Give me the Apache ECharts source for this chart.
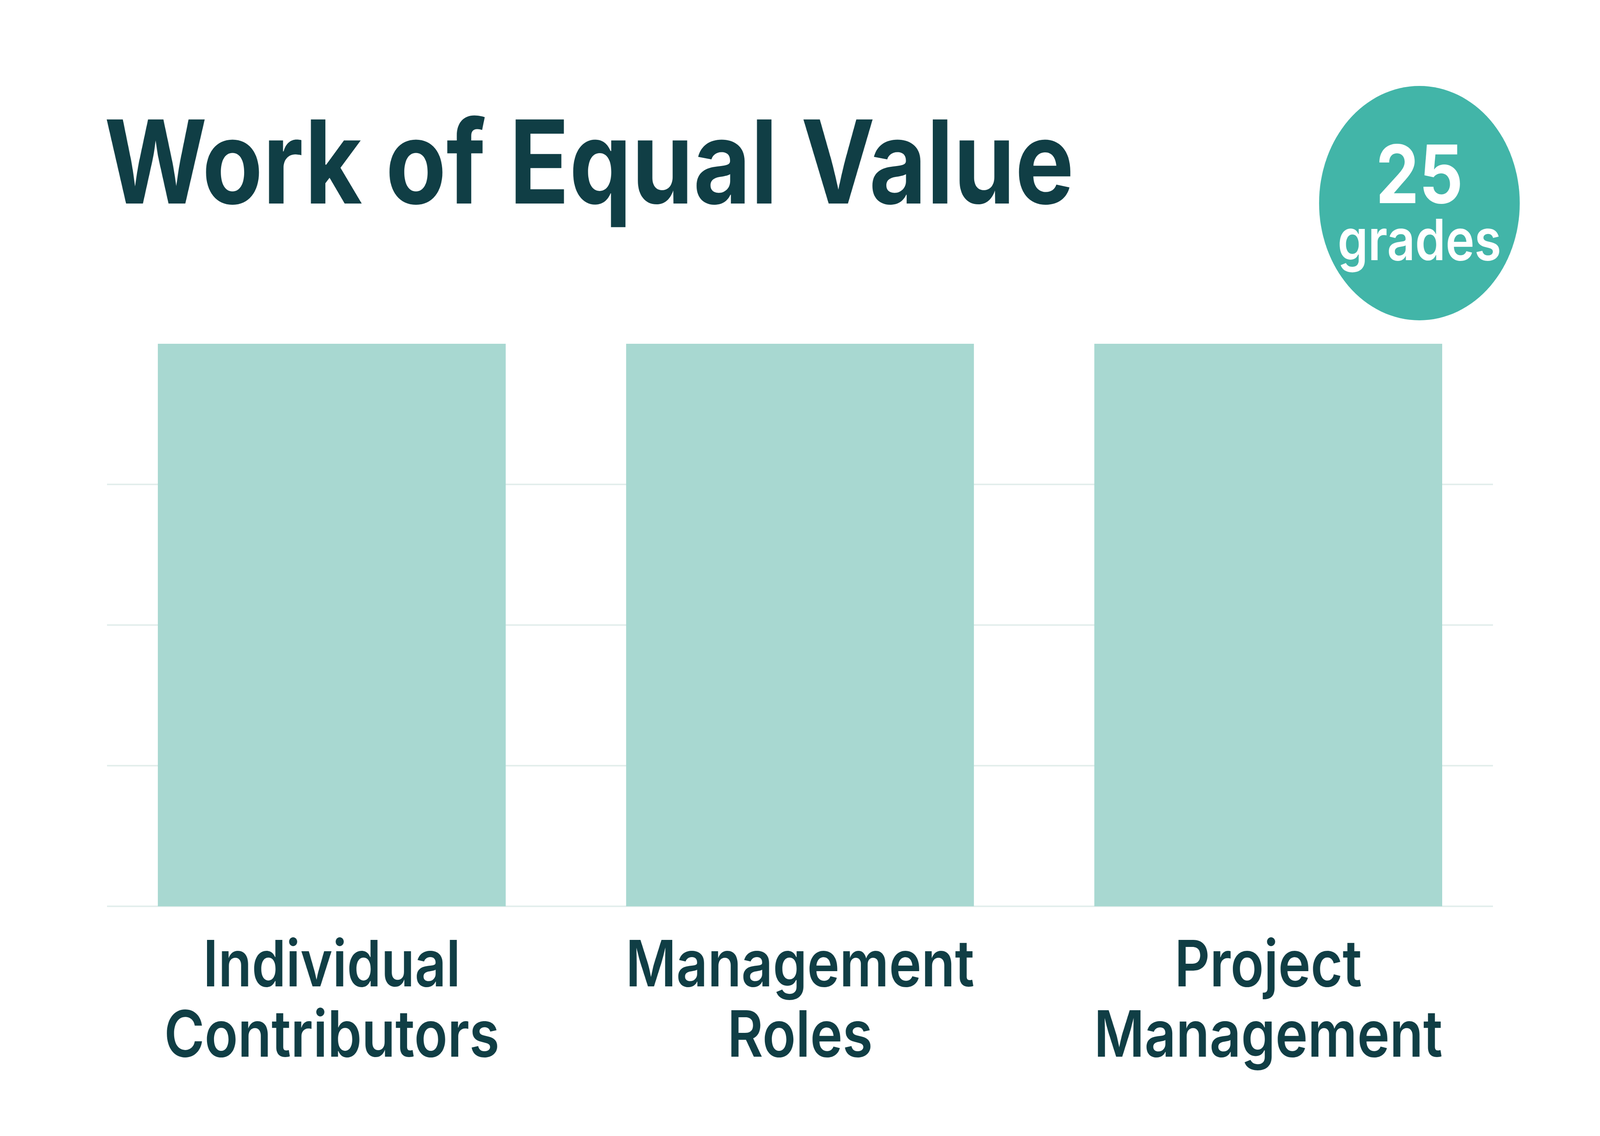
<!DOCTYPE html>
<html>
<head>
<meta charset="utf-8">
<title>Work of Equal Value</title>
<script src="https://cdn.jsdelivr.net/npm/echarts@6/dist/echarts.min.js"></script>
<style>
  html, body { margin: 0; padding: 0; background: #ffffff; overflow: hidden; }
  #chart_container { width: 4784px; height: 2908px; transform-origin: 0 0; }
</style>
</head>
<body>
<div id="chart_container"></div>
<script>
// data
var categories = ['Individual\nContributors', 'Management\nRoles', 'Project\nManagement'];
var gradeValues = [4, 4, 4];
var yTicks = [0, 1, 2, 3, 4];
var gradeCount = '25';

var darkText = '#103E45';
var barColor = '#A8D8D1';
var badgeColor = '#42B5A8';
var gridColor = '#E3EEEC';

// the chart is laid out at 4784x2908, the window may be smaller: fit it
var box = document.getElementById('chart_container');
box.style.transform = 'scale(' + (window.innerWidth / 4784) + ',' + (window.innerHeight / 2908) + ')';

var chart = echarts.init(box);

var yMin = yTicks[0];
var yMax = yTicks[yTicks.length - 1];

var option = {
  backgroundColor: '#ffffff',
  animation: false,
  grid: [
    // bars
    { left: 292, right: 292, top: 880, bottom: 588 },
    // guide lines, a bit narrower than the bar grid
    { left: 320, right: 320, top: 880, bottom: 588 }
  ],
  xAxis: [
    {
      type: 'category',
      gridIndex: 0,
      data: categories,
      axisLine: { show: false },
      axisTick: { show: false },
      axisLabel: {
        margin: 66,
        color: darkText,
        fontFamily: 'Inter',
        fontWeight: 600,
        fontSize: 164,
        lineHeight: 180
      }
    },
    {
      type: 'category',
      gridIndex: 1,
      data: categories,
      show: false
    }
  ],
  yAxis: [
    {
      type: 'value',
      gridIndex: 0,
      min: yMin,
      max: yMax,
      interval: 1,
      show: false,
      splitLine: { show: false }
    },
    {
      type: 'value',
      gridIndex: 1,
      min: yMin,
      max: yMax,
      interval: 1,
      axisLine: { show: false },
      axisTick: { show: false },
      axisLabel: { show: false },
      splitLine: {
        lineStyle: {
          // the top line sits at the bar tops and is not drawn in the original
          color: [gridColor, gridColor, gridColor, gridColor, 'rgba(0,0,0,0)'],
          width: 4
        }
      }
    }
  ],
  series: [{
    type: 'bar',
    xAxisIndex: 0,
    yAxisIndex: 0,
    data: gradeValues,
    barWidth: 1040,
    z: 5,
    itemStyle: { color: barColor }
  }],
  graphic: [
    {
      type: 'text',
      x: 312,
      y: 284,
      style: {
        text: 'Work of Equal Value',
        fill: darkText,
        font: '700 296px Inter'
      }
    },
    {
      type: 'circle',
      shape: { cx: 4244, cy: 520, r: 300 },
      style: { fill: badgeColor }
    },
    {
      type: 'text',
      x: 4244,
      y: 458,
      style: {
        text: gradeCount,
        fill: '#ffffff',
        font: '700 206px Inter',
        align: 'center',
        verticalAlign: 'middle'
      }
    },
    {
      type: 'text',
      x: 4244,
      y: 622,
      style: {
        text: 'grades',
        fill: '#ffffff',
        font: '600 146px Inter',
        align: 'center',
        verticalAlign: 'middle'
      }
    }
  ]
};

chart.setOption(option);
</script>
</body>
</html>
